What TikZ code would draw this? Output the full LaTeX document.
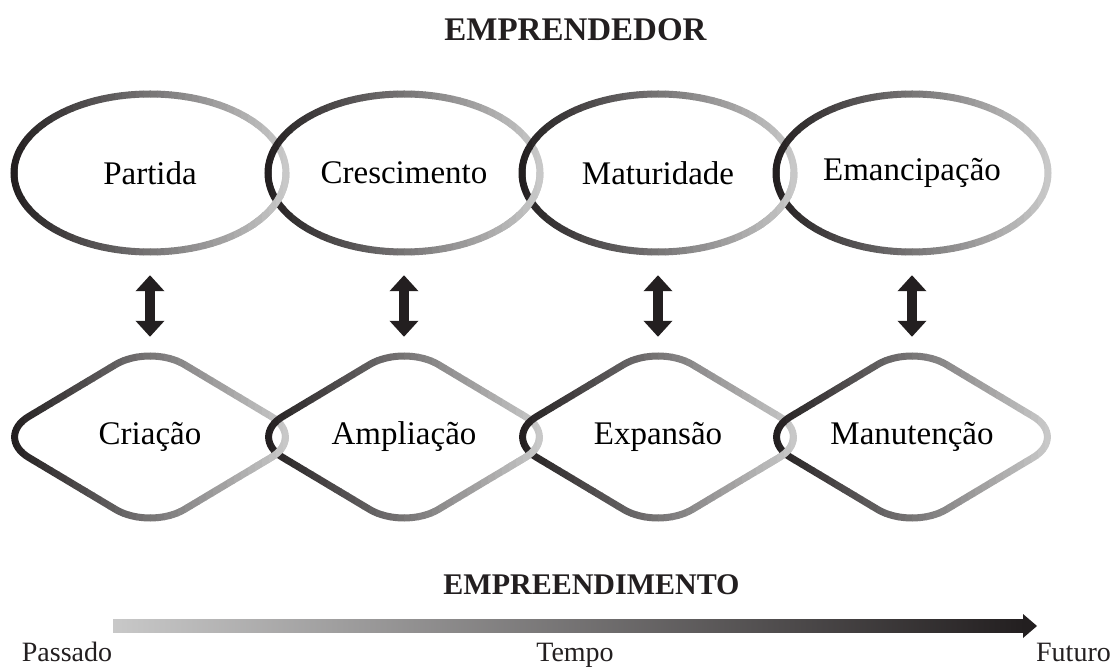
\documentclass[tikz,border=0pt]{standalone}
\usepackage{fontspec}
\setmainfont{Liberation Serif}
\usepackage{xcolor}
\usepackage{tikz}
\usetikzlibrary{arrows.meta,shapes.geometric}

\definecolor{stdark}{RGB}{35,31,32}
\definecolor{stlight}{RGB}{200,200,200}

% outlines with a left-to-right grey fade, drawn strip by strip
\newcommand\ovalring[2][]{%
	\begin{scope}[shift={(#2.center)}]
		#1
		\foreach \k in {0,...,39}{
			\pgfmathtruncatemacro\pc{100-\k*100/39}
			\begin{scope}
				\clip (-140+\k*7,-110) rectangle ++(7.5,220);
				\draw[ring,draw=stdark!\pc!stlight] (0,0) ellipse (136 and 79);
			\end{scope}
		}
	\end{scope}}
\newcommand\lozring[2][]{%
	\begin{scope}[shift={(#2.center)}]
		#1
		\foreach \k in {0,...,39}{
			\pgfmathtruncatemacro\pc{100-\k*100/39}
			\begin{scope}
				\clip (-140+\k*7,-110) rectangle ++(7.5,220);
				\draw[ring,draw=stdark!\pc!stlight,rounded corners=40pt]
					(-77.75,-46.5) -- (0,-93) -- (155.5,0) -- (0,93) -- (-155.5,0) -- cycle;
			\end{scope}
		}
	\end{scope}}

\begin{document}
\begin{tikzpicture}[x=1pt,y=-1pt,
		label text/.style={font=\fontsize{33}{40}\selectfont},
		stage/.style={label text,ellipse,inner sep=0pt,minimum width=272pt,minimum height=158pt},
		phase/.style={label text,rectangle,inner sep=0pt,minimum width=271pt,minimum height=161pt},
		ring/.style={line width=7pt},
		link/.style={stdark,line width=10pt,{Triangle[width=28pt,length=16pt]}-{Triangle[width=28pt,length=16pt]},
			shorten <=23pt,shorten >=19.5pt},
		heading/.style={font=\fontsize{33}{40}\selectfont\bfseries,text=stdark,anchor=base},
		timetext/.style={font=\fontsize{28}{34}\selectfont,text=stdark,anchor=base}]
	\useasboundingbox (0,0) rectangle (1120,668);

	% entrepreneur
	\node[heading] (emprendedor) at (575.5,41) {EMPRENDEDOR};
	\node[stage] (partida) at (150,173) {Partida};
	\node[stage] (crescimento) at (404,173) {Crescimento};
	\node[stage] (maturidade) at (658,173) {Maturidade};
	\node[stage] (emancipacao) at (912,173) {Emancipação};

	% enterprise
	\node[phase] (criacao) at (150,437) {Criação};
	\node[phase] (ampliacao) at (404,437) {Ampliação};
	\node[phase] (expansao) at (658,437) {Expansão};
	\node[phase] (manutencao) at (912,437) {Manutenção};
	\node[heading,font=\fontsize{30}{36}\selectfont\bfseries] (empreendimento) at (591.5,594) {EMPREENDIMENTO};

	\foreach \s in {partida,crescimento,maturidade,emancipacao} {\ovalring{\s}}
	\foreach \s in {partida,crescimento,maturidade} {\ovalring[\clip (100,0) rectangle (145,100);]{\s}}
	\foreach \s in {criacao,ampliacao,expansao,manutencao} {\lozring{\s}}
	\foreach \s in {criacao,ampliacao,expansao} {\lozring[\clip (100,0) rectangle (145,100);]{\s}}

	\foreach \a/\b in {partida/criacao,crescimento/ampliacao,maturidade/expansao,emancipacao/manutencao}
		\draw[link] (\a.south) -- (\b.north);

	% time line
	\node[timetext] (passado) at (67,661) {Passado};
	\node[timetext] (tempo) at (575,661) {Tempo};
	\node[timetext] (futuro) at (1073.5,661) {Futuro};
	\coordinate (t0) at (113,626);
	\coordinate (t1) at (1037,626);
	\shade[left color=stlight,right color=stdark] ([yshift=6.5pt]t0) rectangle ([xshift=-13pt,yshift=-6.5pt]t1);
	\fill[stdark] (t1) -- ([xshift=-14pt,yshift=12pt]t1) -- ([xshift=-14pt,yshift=-12pt]t1) -- cycle;
\end{tikzpicture}
\end{document}
